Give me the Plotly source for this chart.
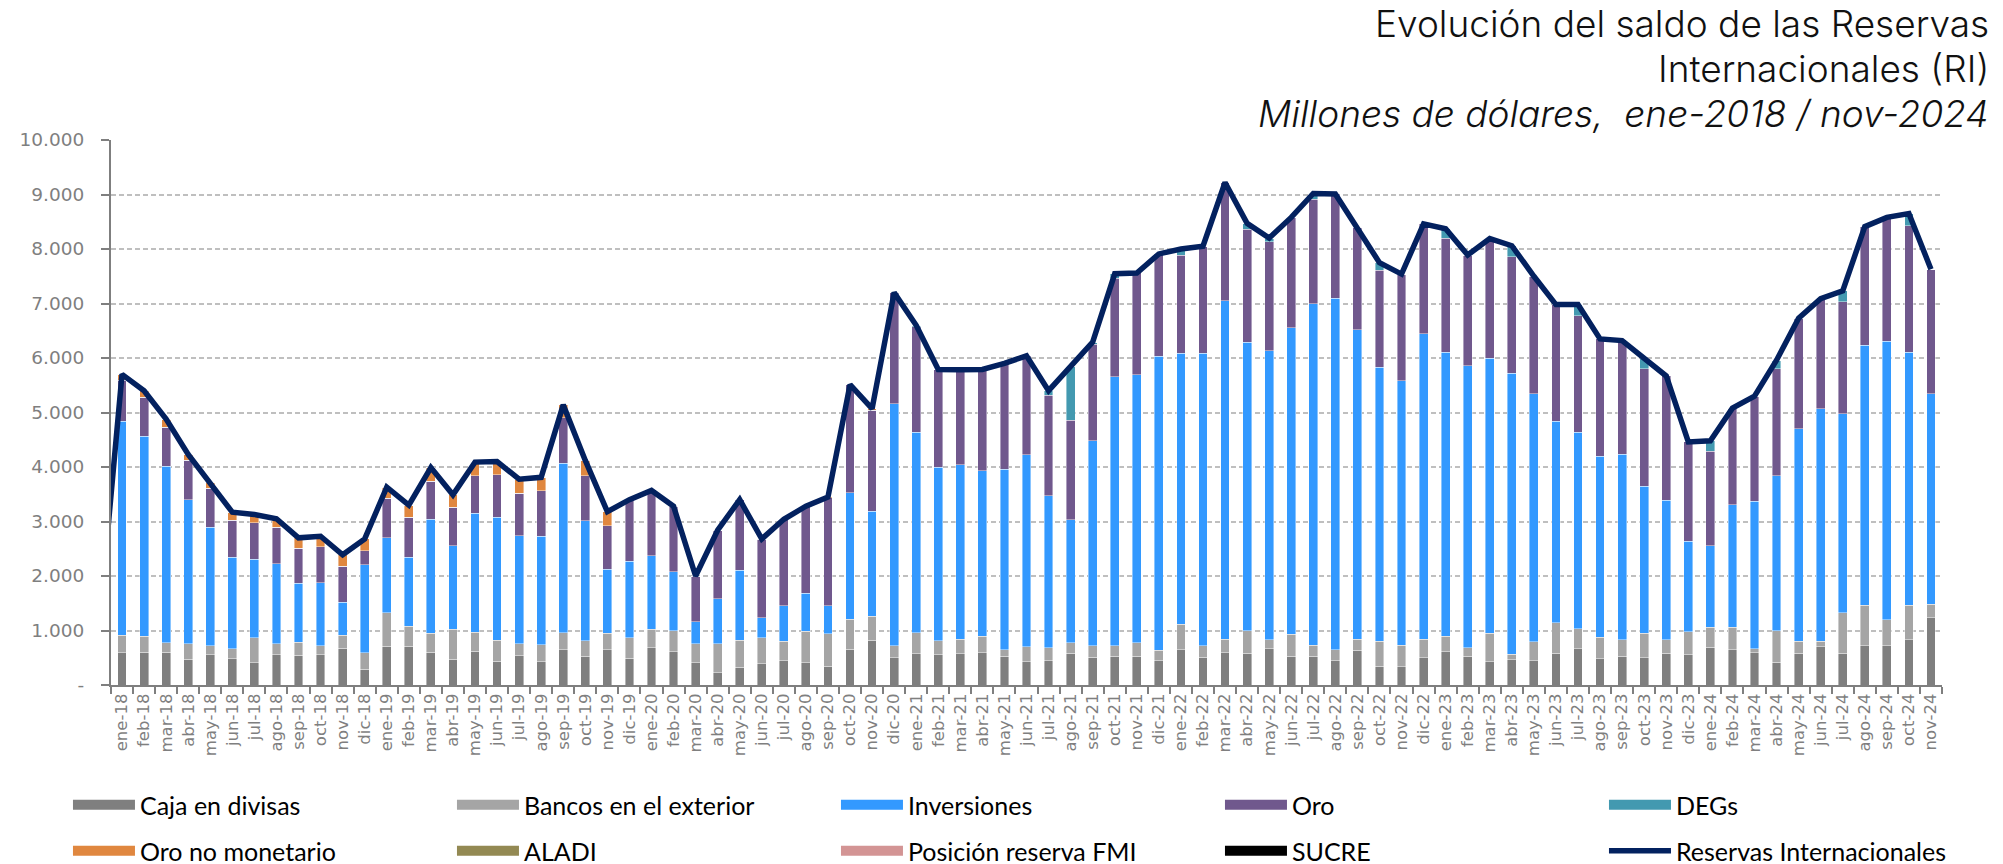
import plotly.graph_objects as go

# ---------------- data (millones de dólares) ----------------
meses = ["ene", "feb", "mar", "abr", "may", "jun", "jul", "ago", "sep", "oct", "nov", "dic"]
anios = ["18", "19", "20", "21", "22", "23", "24"]
categorias = [f"{m}-{a}" for a in anios for m in meses][:83]  # ene-18 ... nov-24

caja = [590, 602, 602, 471, 556, 484, 412, 556, 543, 556, 674, 288,
        707, 707, 602, 471, 615, 432, 537, 425, 648, 524, 648, 491,
        687, 609, 412, 229, 327, 393, 445, 412, 340, 654, 818, 504,
        576, 556, 576, 596, 531, 428, 448, 579, 510, 531, 531, 448,
        648, 510, 593, 579, 669, 531, 531, 448, 634, 345, 338, 497,
        614, 524, 428, 462, 448, 586, 669, 483, 524, 503, 586, 552,
        690, 648, 593, 414, 579, 703, 579, 717, 717, 834, 1234]

bancos = [326, 295, 170, 282, 164, 184, 452, 197, 242, 164, 236, 301,
          615, 373, 347, 556, 354, 386, 216, 315, 314, 287, 301, 373,
          340, 386, 341, 524, 498, 471, 360, 570, 596, 557, 445, 216,
          386, 255, 268, 301, 117, 275, 235, 193, 207, 186, 241, 186,
          469, 214, 248, 414, 159, 400, 200, 200, 207, 462, 393, 344,
          283, 159, 524, 104, 345, 552, 359, 393, 304, 449, 248, 427,
          372, 414, 76, 586, 228, 104, 745, 745, 483, 628, 249]

inversiones = [3920, 3664, 3240, 2650, 2179, 1675, 1446, 1472, 1080, 1158, 608, 1616,
               1381, 1263, 2094, 1525, 2185, 2258, 1989, 1989, 3109, 2199, 1178, 1407,
               1349, 1080, 405, 831, 1282, 373, 648, 700, 517, 2316, 1924, 4437,
               3672, 3181, 3194, 3030, 3311, 3518, 2793, 2262, 3766, 4938, 4918, 5394,
               4966, 5359, 6207, 5297, 5303, 5621, 6269, 6449, 5676, 5021, 4855, 5607,
               5206, 5179, 5041, 5151, 4552, 3703, 3606, 3324, 3406, 2696, 2559, 1655,
               1490, 2241, 2703, 2841, 3896, 4262, 3655, 4772, 5103, 4641, 3862]

oro = [759, 720, 720, 720, 714, 681, 668, 668, 648, 661, 661, 262,
       720, 733, 700, 714, 688, 779, 779, 838, 837, 832, 798, 1129,
       1194, 1195, 832, 1256, 1293, 1433, 1587, 1588, 1987, 1983, 1853, 2043,
       1936, 1798, 1747, 1843, 1941, 1819, 1840, 1828, 1772, 1807, 1870, 1882,
       1807, 1967, 2172, 2069, 2000, 2028, 1910, 1913, 1873, 1786, 1954, 2012,
       2097, 2028, 2197, 2145, 2155, 2139, 2138, 2150, 2086, 2159, 2277, 1826,
       1738, 1777, 1928, 1966, 2027, 2021, 2049, 2176, 2277, 2325, 2285]

degs = [0, 0, 0, 0, 0, 0, 0, 0, 0, 0, 0, 0,
        0, 0, 0, 0, 0, 0, 0, 0, 0, 0, 0, 0,
        0, 10, 0, 0, 0, 0, 0, 0, 0, 0, 0, 0,
        30, 0, 0, 20, 0, 0, 80, 978, 35, 83, 0, 0,
        110, 0, 0, 111, 69, 0, 110, 0, 0, 136, 0, 0,
        170, 0, 0, 198, 0, 0, 208, 0, 0, 183, 0, 0,
        190, 0, 0, 153, 0, 0, 202, 0, 0, 222, 0]

oro_no_monetario = [105, 119, 148, 107, 97, 146, 152, 157, 187, 191, 211, 213,
                    207, 224, 247, 224, 248, 245, 254, 243, 232, 278, 255, 0,
                    0, 0, 10, 0, 0, 10, 0, 10, 10, 0, 30, 0,
                    0, 0, 0, 0, 0, 0, 0, 0, 0, 0, 0, 0,
                    0, 0, 0, 0, 0, 0, 0, 0, 0, 0, 0, 0,
                    0, 0, 0, 0, 0, 0, 0, 0, 0, 0, 0, 0,
                    0, 0, 0, 0, 0, 0, 0, 0, 0, 0, 0]

aladi = [0] * 83
posicion_fmi = [0] * 83
sucre = [0] * 83

reservas = [5700, 5400, 4880, 4230, 3710, 3170, 3130, 3050, 2700, 2730, 2390, 2680,
            3630, 3300, 3990, 3490, 4090, 4100, 3775, 3810, 5140, 4120, 3180, 3400,
            3570, 3280, 2000, 2840, 3400, 2680, 3040, 3280, 3450, 5510, 5070, 7200,
            6600, 5790, 5785, 5790, 5900, 6040, 5400, 5840, 6290, 7545, 7560, 7910,
            8000, 8050, 9220, 8470, 8200, 8580, 9020, 9010, 8390, 7750, 7540, 8460,
            8370, 7890, 8190, 8060, 7500, 6980, 6980, 6350, 6320, 5990, 5670, 4460,
            4480, 5080, 5300, 5960, 6730, 7090, 7230, 8410, 8580, 8650, 7630]
reservas_previo = 1260  # dic-17 point, only its segment into ene-18 is visible

ytick_vals = [0, 1000, 2000, 3000, 4000, 5000, 6000, 7000, 8000, 9000, 10000]
ytick_text = ["-", "1.000", "2.000", "3.000", "4.000", "5.000", "6.000",
              "7.000", "8.000", "9.000", "10.000"]

titulo = ["Evolución del saldo de las Reservas", "Internacionales (RI)"]
subtitulo = "Millones de dólares,\u00a0 ene-2018 / nov-2024"

# ---------------- figure ----------------
series = [
    ("Caja en divisas", caja, "#7f7f7f", "legend"),
    ("Bancos en el exterior", bancos, "#a5a5a5", "legend"),
    ("Inversiones", inversiones, "#3399ff", "legend"),
    ("Oro", oro, "#70588d", "legend"),
    ("DEGs", degs, "#4399b0", "legend"),
    ("Oro no monetario", oro_no_monetario, "#e0873f", "legend2"),
    ("ALADI", aladi, "#938953", "legend2"),
    ("Posición reserva FMI", posicion_fmi, "#d39494", "legend2"),
    ("SUCRE", sucre, "#000000", "legend2"),
]

fig = go.Figure()
for nombre, valores, color, leyenda in series:
    fig.add_trace(go.Bar(
        x=categorias, y=valores, name=nombre, legendgroup=nombre,
        marker=dict(color=color, line=dict(width=0.6, color="rgba(255,255,255,0.7)")),
        showlegend=False, hoverinfo="x+y+name",
    ))
    # legend key (wide rectangular swatch, as in the original)
    fig.add_trace(go.Scatter(
        x=[None], y=[None], name=nombre, legendgroup=nombre, legend=leyenda,
        mode="lines", line=dict(color=color, width=14), hoverinfo="skip",
    ))

linea_x = list(range(-1, len(reservas)))
fig.add_trace(go.Scatter(
    x=linea_x, y=[reservas_previo] + reservas, xaxis="x2",
    name="Reservas Internacionales", legend="legend2", mode="lines",
    line=dict(color="#03215f", width=5.5),
))

gris = "#7f7f7f"
alto_px, fondo_px = 545, 685


def ypaper(px):
    return (fondo_px - px) / alto_px


leg_comun = dict(
    orientation="h", traceorder="normal",
    x=-0.0235, xanchor="left", yanchor="middle",
    entrywidth=307, entrywidthmode="pixels",
    itemwidth=62, itemclick=False, itemdoubleclick=False,
    font=dict(family="Lato", size=25, color="#000000"),
    bgcolor="rgba(0,0,0,0)",
)

fuente_titulo = dict(family="Inter", size=37, color="#111111", weight=300)

fig.update_layout(
    width=2003, height=864,
    margin=dict(l=111, r=61, t=140, b=179, autoexpand=False),
    paper_bgcolor="white", plot_bgcolor="white",
    barmode="stack", bargap=0.6,
    showlegend=True,
    legend=dict(leg_comun, y=ypaper(805)),
    legend2=dict(leg_comun, y=ypaper(851)),
    xaxis=dict(
        type="category", categoryorder="array", categoryarray=categorias,
        range=[-0.5, len(categorias) - 0.5],
        tickangle=-90, tickson="boundaries", ticks="outside", ticklen=7,
        tickcolor=gris, tickwidth=1.5,
        showline=True, linecolor=gris, linewidth=2,
        showgrid=False,
        tickfont=dict(family="DejaVu Sans", size=16.5, color=gris),
        fixedrange=True,
    ),
    xaxis2=dict(
        overlaying="x", range=[-0.5, len(categorias) - 0.5],
        visible=False, showgrid=False, zeroline=False, fixedrange=True,
    ),
    yaxis=dict(
        range=[0, 10000], tickvals=ytick_vals, ticktext=ytick_text,
        ticks="outside", ticklen=8, tickcolor=gris, tickwidth=1.5,
        ticklabelstandoff=13,
        showline=True, linecolor=gris, linewidth=2,
        showgrid=True, gridcolor="#bfbfbf", gridwidth=1.5, griddash="5px,3px",
        zeroline=False,
        tickfont=dict(family="DejaVu Sans", size=18.5, color=gris),
        fixedrange=True,
    ),
    annotations=[
        dict(text=titulo[0], xref="paper", yref="paper",
             x=1.0265, y=ypaper(23), xanchor="right", yanchor="middle", showarrow=False,
             font=fuente_titulo),
        dict(text=titulo[1], xref="paper", yref="paper",
             x=1.0265, y=ypaper(68), xanchor="right", yanchor="middle", showarrow=False,
             font=fuente_titulo),
        dict(text=subtitulo, xref="paper", yref="paper",
             x=1.0265, y=ypaper(113.5), xanchor="right", yanchor="middle", showarrow=False,
             font=dict(fuente_titulo, style="italic")),
    ],
)

fig.write_html("out.html", config={"displayModeBar": False},
               post_script="document.body.style.margin='0';")
